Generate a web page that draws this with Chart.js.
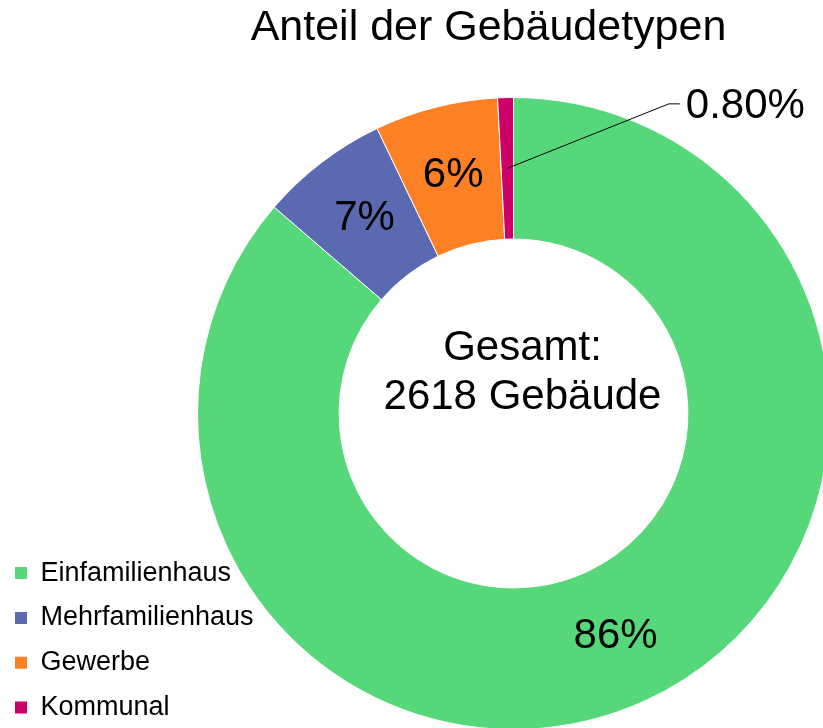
<!DOCTYPE html>
<html>
<head>
<meta charset="utf-8">
<script src="https://cdn.jsdelivr.net/npm/chart.js@4.4.1/dist/chart.umd.min.js"></script>
<style>
  html, body { margin: 0; padding: 0; background: #ffffff; overflow: hidden; width: 823px; height: 728px; }
  #wrap { position: absolute; left: 0; top: 0; width: 1000px; height: 760px; }
</style>
</head>
<body>
<div id="wrap"><canvas id="c" width="1000" height="760"></canvas></div>
<script>
// ---- data ----
const categories = ['Einfamilienhaus', 'Mehrfamilienhaus', 'Gewerbe', 'Kommunal'];
const buildingCounts = [2260, 172, 165, 21];
const sliceColors = ['#56D87A', '#5A69B0', '#FD8124', '#CC0066'];
const chartTitle = 'Anteil der Gebäudetypen';
const centerLabel = 'Gesamt:';
const centerUnit = 'Gebäude';

const FONT = '"Liberation Sans", Arial, Helvetica, sans-serif';

const sliceLabelPlugin = {
  id: 'sliceLabels',
  afterDatasetsDraw(chart, args, opts) {
    const ctx = chart.ctx;
    const meta = chart.getDatasetMeta(0);
    const data = chart.data.datasets[0].data;
    const total = data.reduce((a, b) => a + b, 0);
    ctx.save();
    ctx.font = opts.size + 'px ' + FONT;
    ctx.fillStyle = opts.color;
    ctx.strokeStyle = opts.color;
    ctx.textBaseline = 'middle';
    meta.data.forEach((arc, i) => {
      const pct = data[i] / total * 100;
      const text = pct < 1 ? pct.toFixed(2) + '%' : Math.round(pct) + '%';
      const p = arc.getCenterPoint();
      if (pct < opts.outsideBelow) {
        const L = opts.leader;
        const ex = p.x + L.dx, ey = p.y + L.dy;
        ctx.lineWidth = 1;
        ctx.beginPath();
        ctx.moveTo(p.x, p.y);
        ctx.lineTo(ex, ey);
        ctx.lineTo(ex + L.tail, ey);
        ctx.stroke();
        ctx.textAlign = 'left';
        ctx.fillText(text, ex + L.tail + L.gap, ey + L.textDy);
      } else {
        ctx.textAlign = 'center';
        ctx.fillText(text, p.x, p.y);
      }
    });
    ctx.restore();
  }
};

const centerTextPlugin = {
  id: 'centerText',
  afterDatasetsDraw(chart, args, opts) {
    const ctx = chart.ctx;
    const arc = chart.getDatasetMeta(0).data[0];
    const total = chart.data.datasets[0].data.reduce((a, b) => a + b, 0);
    ctx.save();
    ctx.font = opts.size + 'px ' + FONT;
    ctx.fillStyle = opts.color;
    ctx.textAlign = 'center';
    ctx.textBaseline = 'middle';
    ctx.fillText(centerLabel, arc.x + opts.dx, arc.y + opts.dy1);
    ctx.fillText(total + ' ' + centerUnit, arc.x + opts.dx, arc.y + opts.dy2);
    ctx.restore();
  }
};

new Chart(document.getElementById('c'), {
  type: 'doughnut',
  data: {
    labels: categories,
    datasets: [{
      data: buildingCounts,
      backgroundColor: sliceColors,
      borderColor: '#ffffff',
      borderWidth: 1
    }]
  },
  options: {
    responsive: false,
    animation: false,
    radius: 316,
    cutout: '55.2%',
    clip: false,
    layout: { padding: { left: -2.8, right: 20.2, top: 0, bottom: 21.2 } },
    scales: {
      spacer: {
        type: 'linear',
        position: 'right',
        display: false,
        afterFit(s) { s.width = Math.max(s.chart.legend.width - 50, 0); }
      }
    },
    plugins: {
      tooltip: { enabled: false },
      title: {
        display: true,
        text: chartTitle,
        color: '#000000',
        font: { family: FONT, size: 43, weight: 'normal', lineHeight: 1.2 },
        padding: { top: 2.6, bottom: 34.0 }
      },
      legend: {
        position: 'left',
        align: 'end',
        labels: {
          color: '#000000',
          font: { family: FONT, size: 27 },
          boxWidth: 12,
          boxHeight: 12,
          padding: 17.8,
          generateLabels(chart) {
            const items = Chart.overrides.doughnut.plugins.legend.labels.generateLabels(chart);
            return items.map(it => Object.assign(it, { lineWidth: 0 }));
          }
        }
      },
      sliceLabels: {
        size: 42,
        color: '#000000',
        outsideBelow: 1,
        leader: { dx: 161.5, dy: -64.5, tail: 11, gap: 6, textDy: 2.5 }
      },
      centerText: { size: 42, color: '#000000', dx: 9, dy1: -65.5, dy2: -16 }
    }
  },
  plugins: [sliceLabelPlugin, centerTextPlugin]
});
</script>
</body>
</html>
